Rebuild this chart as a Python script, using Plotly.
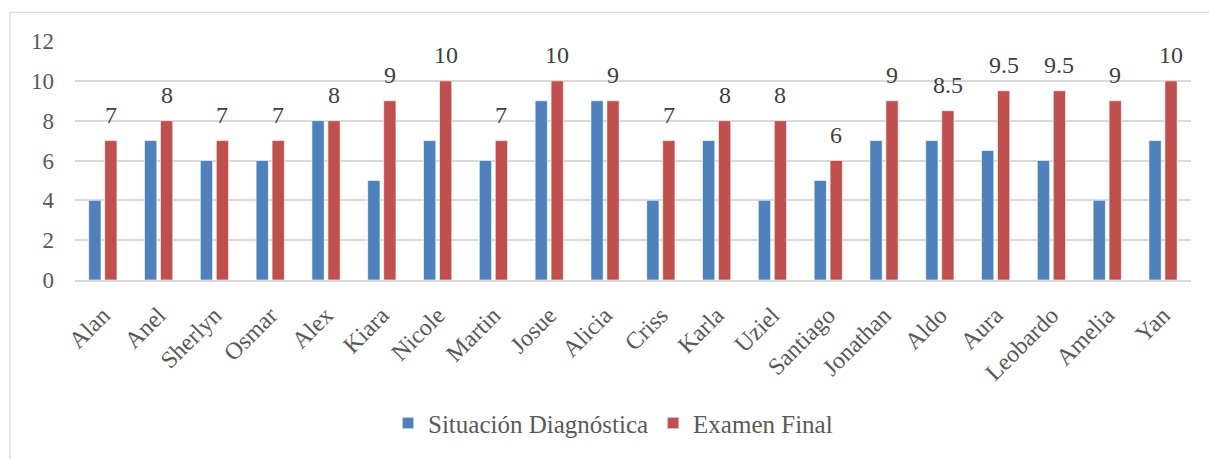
import plotly.graph_objects as go

# Student scores: diagnostic assessment vs. final exam
students = ["Alan", "Anel", "Sherlyn", "Osmar", "Alex", "Kiara", "Nicole", "Martin",
            "Josue", "Alicia", "Criss", "Karla", "Uziel", "Santiago", "Jonathan",
            "Aldo", "Aura", "Leobardo", "Amelia", "Yan"]
diagnostica = [4, 7, 6, 6, 8, 5, 7, 6, 9, 9, 4, 7, 4, 5, 7, 7, 6.5, 6, 4, 7]
examen_final = [7, 8, 7, 7, 8, 9, 10, 7, 10, 9, 7, 8, 8, 6, 9, 8.5, 9.5, 9.5, 9, 10]
y_ticks = [0, 2, 4, 6, 8, 10, 12]

BLUE = "#4F81BD"
RED = "#C0504D"
FONT = "'Liberation Serif', 'Times New Roman', serif"

BAR_W = 0.22
BLUE_OFF = -0.254
RED_OFF = 0.032

fig = go.Figure()
fig.add_trace(go.Bar(
    x=students, y=diagnostica, name="Situación Diagnóstica",
    marker=dict(color=BLUE, line=dict(color="rgba(255,255,255,0.6)", width=1)),
    width=BAR_W, offset=BLUE_OFF,
))
fig.add_trace(go.Bar(
    x=students, y=examen_final, name="Examen Final",
    marker=dict(color=RED, line=dict(color="rgba(255,255,255,0.6)", width=1)),
    width=BAR_W, offset=RED_OFF,
))

# value labels above the final-exam bars
for i, v in enumerate(examen_final):
    fig.add_annotation(
        x=i + RED_OFF + BAR_W / 2, y=v, xref="x", yref="y",
        text=f"{v:g}", showarrow=False, yanchor="bottom", yshift=11,
        font=dict(family=FONT, size=24, color="#404040"),
    )

# chart frame
L, R, T, B = 75, 18, 41, 176
W, H = 1209, 459
pw, ph = W - L - R, H - T - B
fig.add_shape(
    type="rect", xref="paper", yref="paper",
    x0=(10 - L) / pw, x1=(W + 10 - L) / pw,
    y0=-(B + 10) / ph, y1=1 + (T - 12) / ph,
    line=dict(color="#D9D9D9", width=1.2), fillcolor="rgba(0,0,0,0)", layer="below",
)

fig.update_layout(
    width=W, height=H,
    margin=dict(l=L, r=R, t=T, b=B),
    plot_bgcolor="white", paper_bgcolor="white",
    barmode="overlay",
    showlegend=True,
    legend=dict(
        orientation="h", x=(388 - L) / pw, xanchor="left",
        y=-(428 - (H - B)) / ph, yanchor="middle",
        font=dict(family=FONT, size=25, color="#595959"),
        itemsizing="constant", traceorder="normal", itemwidth=30,
    ),
    font=dict(family=FONT, color="#595959"),
)
fig.update_xaxes(
    type="category", range=[-0.5, 19.5], tickangle=-45,
    tickfont=dict(family=FONT, size=24, color="#595959"),
    showgrid=False, showline=True, linecolor="#D9D9D9", linewidth=1.5,
    ticks="", ticklabelstandoff=10,
)
fig.update_yaxes(
    range=[0, 12], tickvals=y_ticks,
    tickfont=dict(family=FONT, size=23, color="#595959"),
    showgrid=True, gridcolor="#D9D9D9", gridwidth=1.5,
    zeroline=False, showline=False, ticks="", ticklabelstandoff=20,
)

fig.write_html("out.html")
